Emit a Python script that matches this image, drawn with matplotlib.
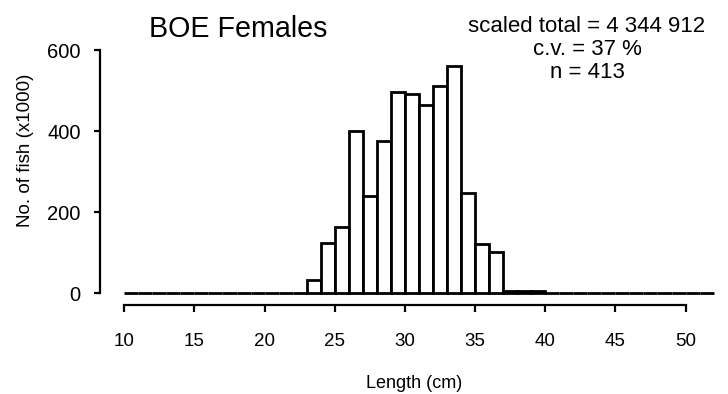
import matplotlib
matplotlib.use('agg')
import matplotlib.pyplot as plt

# length classes (cm, lower bin edge) and numbers of fish (x1000)
lengths = list(range(10, 52))
counts = [1, 1, 1, 1, 1, 1, 0, 1, 1, 1, 1, 1, 0,
          33, 125, 164, 401, 241, 376, 498, 491, 465, 513, 561, 248, 122, 102,
          6, 6, 5,
          0, 0, 0, 0, 0, 0, 0, 0, 0, 0, 0, 0]
x_ticks = [10, 15, 20, 25, 30, 35, 40, 45, 50]
y_ticks = [0, 200, 400, 600]

title = "BOE Females"
stats = ["scaled total = 4 344 912", "c.v. = 37 %", "n = 413"]

plt.rcParams['font.family'] = ['Liberation Sans', 'DejaVu Sans']

fig = plt.figure(figsize=(7.28, 3.94), dpi=100)
ax = fig.add_axes([100 / 728, 89 / 394, 615 / 728, 255.5 / 394])

ax.bar(lengths, counts, width=1.0, align='edge', facecolor='white',
       edgecolor='black', linewidth=2.0)

ax.set_xlim(8.27, 52.1)
ax.set_ylim(-28.9, 602)

for side in ['top', 'right']:
    ax.spines[side].set_visible(False)
ax.spines['left'].set_bounds(0, 600)
ax.spines['bottom'].set_bounds(10, 50)
ax.spines['left'].set_linewidth(1.6)
ax.spines['bottom'].set_linewidth(1.6)

ax.set_xticks(x_ticks)
ax.set_yticks(y_ticks)
ax.tick_params(axis='x', direction='out', length=5, width=1.6, pad=15, labelsize=13.5)
ax.tick_params(axis='y', direction='out', length=4, width=1.6, pad=10, labelsize=14.5)

fig.text(238.5 / 728, 1 - 37 / 394, title, ha='center', va='baseline', fontsize=20.6)
for i, line in enumerate(stats):
    fig.text(587 / 728, 1 - (32 + 23 * i) / 394, line, ha='center', va='baseline', fontsize=16)

fig.text(25 / 728, 1 - 150 / 394, "No. of fish (x1000)", rotation=90,
         ha='center', va='center', fontsize=13.5)
fig.text(414 / 728, 1 - 388 / 394, "Length (cm)", ha='center', va='baseline', fontsize=13)

fig.savefig('out.png', dpi=100)
